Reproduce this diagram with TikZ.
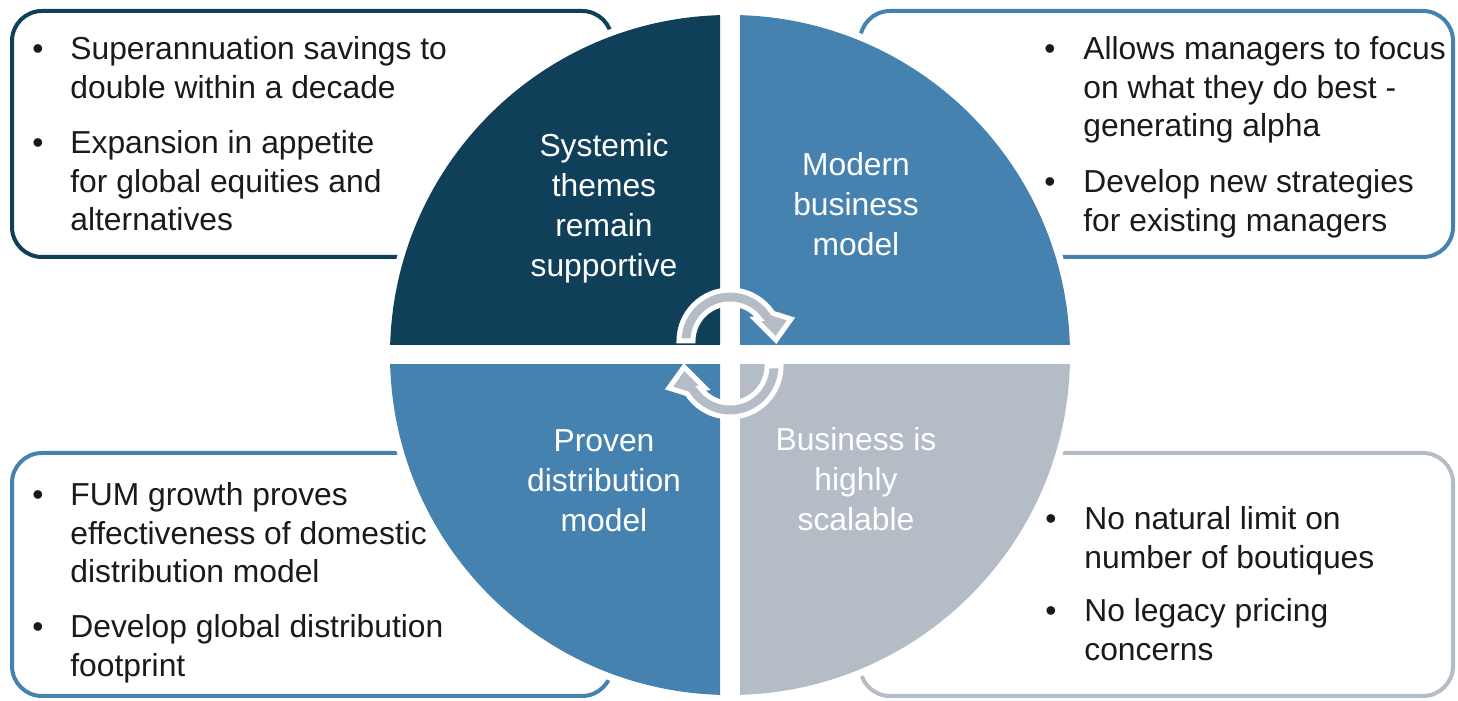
\documentclass[tikz,border=0pt]{standalone}
\usepackage{fontspec}
\setmainfont{Liberation Sans}
\definecolor{navy}{RGB}{15,63,89}
\definecolor{midblue}{RGB}{70,130,176}
\definecolor{lgray}{RGB}{180,188,197}
\definecolor{txt}{RGB}{26,26,26}
\newcommand\cycarrowpath{(180:51) arc[start angle=180,end angle=33,radius=51] -- (61,22) -- (46,1) -- (25,22) -- (37:37) arc[start angle=37,end angle=180,radius=37] -- cycle}
\begin{document}
\begin{tikzpicture}[x=0.5pt,y=0.5pt,
  box/.style={line width=2pt, rounded corners=15pt},
  item/.style={anchor=base west, align=left, inner sep=0, text=txt, font=\fontsize{15.9pt}{19.25pt}\selectfont},
  bul/.style={anchor=base, inner sep=0, text=txt, font=\fontsize{15.9pt}{19.25pt}\selectfont},
  qlabel/.style={anchor=base, align=center, inner sep=0, text=white, font=\fontsize{15.9pt}{20pt}\selectfont},
  cyc/.style={fill=lgray, draw=white, line width=2.5pt, line join=miter}]
\useasboundingbox (0,0) rectangle (1458,701);
% boxes
\draw[box, navy]    (12,444) rectangle (612,690);
\draw[box, midblue] (860,444) rectangle (1453,690);
\draw[box, midblue] (12,5) rectangle (612,248);
\draw[box, lgray]   (860,5) rectangle (1453,248);
% circle halo
\fill[white] (730,346) circle[radius=347];
% quadrants
\begin{scope}\clip (0,356) rectangle (720,701); \fill[navy] (730,346) circle[radius=340];\end{scope}
\begin{scope}\clip (740,356) rectangle (1458,701); \fill[midblue] (730,346) circle[radius=340];\end{scope}
\begin{scope}\clip (0,0) rectangle (720,336); \fill[midblue] (730,346) circle[radius=340];\end{scope}
\begin{scope}\clip (740,0) rectangle (1458,336); \fill[lgray] (730,346) circle[radius=340];\end{scope}
% cycle arrows
\path[cyc, shift={(730,360)}] \cycarrowpath;
\path[cyc, shift={(730,335)}, rotate=180] \cycarrowpath;
% quadrant labels (anchor = baseline of last line)
\node[qlabel] (qtl) at (604,424) {Systemic\\themes\\remain\\supportive};
\node[qlabel] (qtr) at (856,445) {Modern\\business\\model};
\node[qlabel] (qbl) at (604,169) {Proven\\distribution\\model};
\node[qlabel] (qbr) at (856,170) {Business is\\highly\\scalable};
% top-left box
\node[bul] (tlb1) at (38,641) {•};
\node[item] (tl1) at (70,602.5) {Superannuation savings to\\double within a decade};
\node[bul] (tlb2) at (38,547) {•};
\node[item] (tl2) at (70,470) {Expansion in appetite\\for global equities and\\alternatives};
% top-right box
\node[bul] (trb1) at (1050,641) {•};
\node[item] (tr1) at (1083,564) {Allows managers to focus\\on what they do best -\\generating alpha};
\node[bul] (trb2) at (1050,508) {•};
\node[item] (tr2) at (1083,469.5) {Develop new strategies\\for existing managers};
% bottom-left box
\node[bul] (blb1) at (38,195) {•};
\node[item] (bl1) at (70,118) {FUM growth proves\\effectiveness of domestic\\distribution model};
\node[bul] (blb2) at (38,63) {•};
\node[item] (bl2) at (70,24.5) {Develop global distribution\\footprint};
% bottom-right box
\node[bul] (brb1) at (1051,171) {•};
\node[item] (br1) at (1084,132.5) {No natural limit on\\number of boutiques};
\node[bul] (brb2) at (1051,79) {•};
\node[item] (br2) at (1084,40.5) {No legacy pricing\\concerns};
\end{tikzpicture}
\end{document}
